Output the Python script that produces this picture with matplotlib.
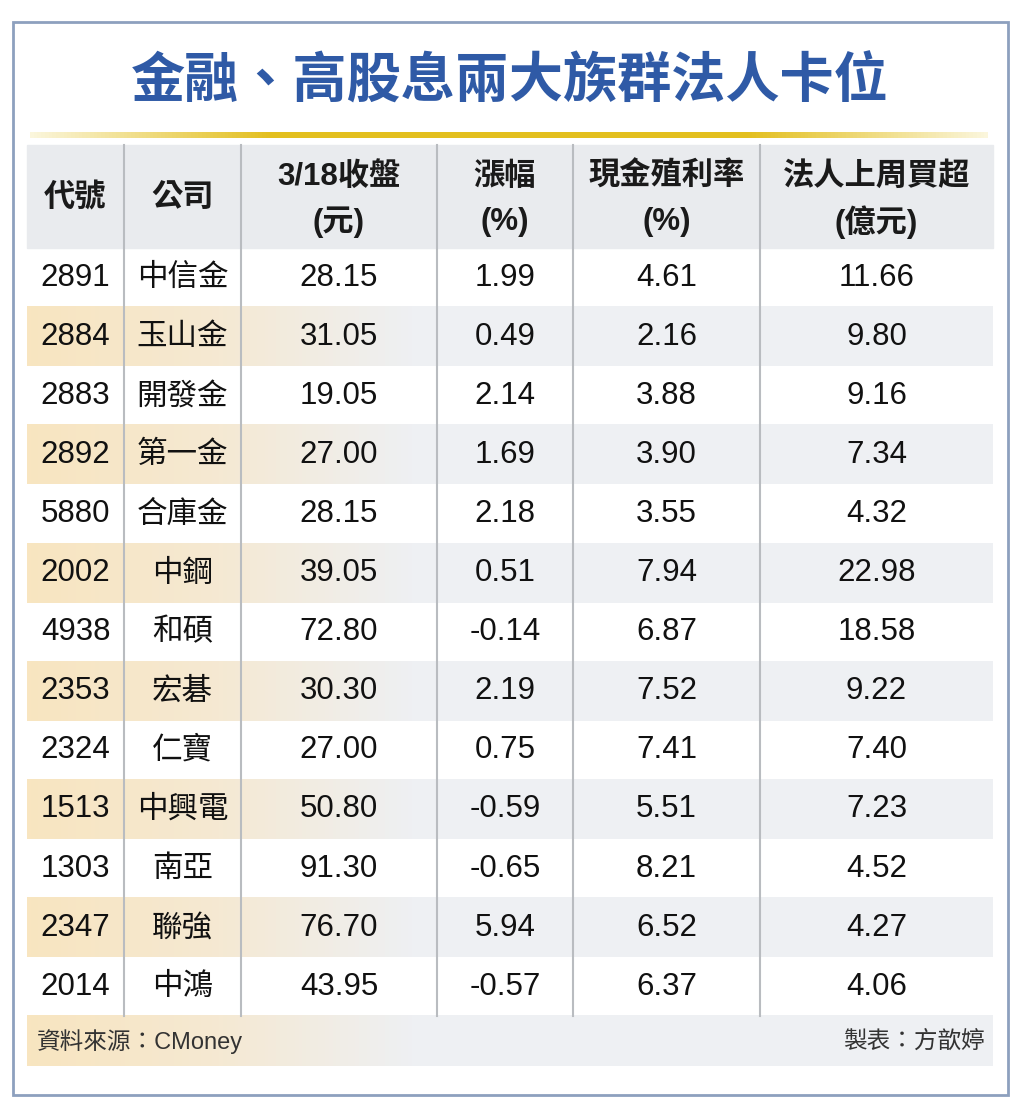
import numpy as np
import matplotlib.pyplot as plt
from matplotlib.colors import LinearSegmentedColormap

plt.rcParams['font.family'] = ['Noto Sans CJK TC', 'DejaVu Sans']
NUM = ['Liberation Sans', 'Noto Sans CJK TC']

title = '金融、高股息兩大族群法人卡位'
headers = [['代號'], ['公司'], ['3/18收盤', '(元)'], ['漲幅', '(%)'],
           ['現金殖利率', '(%)'], ['法人上周買超', '(億元)']]
codes = ['2891', '2884', '2883', '2892', '5880', '2002', '4938',
         '2353', '2324', '1513', '1303', '2347', '2014']
names = ['中信金', '玉山金', '開發金', '第一金', '合庫金', '中鋼', '和碩',
         '宏碁', '仁寶', '中興電', '南亞', '聯強', '中鴻']
close = ['28.15', '31.05', '19.05', '27.00', '28.15', '39.05', '72.80',
         '30.30', '27.00', '50.80', '91.30', '76.70', '43.95']
change = ['1.99', '0.49', '2.14', '1.69', '2.18', '0.51', '-0.14',
          '2.19', '0.75', '-0.59', '-0.65', '5.94', '-0.57']
yld = ['4.61', '2.16', '3.88', '3.90', '3.55', '7.94', '6.87',
       '7.52', '7.41', '5.51', '8.21', '6.52', '6.37']
buy = ['11.66', '9.80', '9.16', '7.34', '4.32', '22.98', '18.58',
       '9.22', '7.40', '7.23', '4.52', '4.27', '4.06']
source = '資料來源：CMoney'
maker = '製表：方歆婷'

W, H = 1024, 1119
fig = plt.figure(figsize=(W / 100, H / 100), dpi=100)
ax = fig.add_axes([0, 0, 1, 1])
ax.set_xlim(0, W)
ax.set_ylim(H, 0)
ax.axis('off')

# outer frame
ax.add_patch(plt.Rectangle((13, 22), 995, 1073, fill=False, ec='#8DA0BE', lw=2))

ax.text(510, 82, title, ha='center', va='center', fontsize=39,
        fontweight='bold', color='#2F5AA6')

# gold rule with faded ends
gold = LinearSegmentedColormap.from_list('g', ['#FBF6DC', '#E3BF1E', '#E3BF1E', '#E3BF1E', '#FBF6DC'])
ax.imshow(np.linspace(0, 1, 256)[None, :], cmap=gold, aspect='auto',
          extent=(30, 988, 138, 132), zorder=1)

left, right = 27, 993
col_edges = [27, 124, 241, 437, 573, 760, 993]
centers = [(col_edges[i] + col_edges[i + 1]) / 2 for i in range(6)]
head_top, head_bot = 145, 248
row_h = 59.1

ax.add_patch(plt.Rectangle((left, head_top), right - left, head_bot - head_top,
                           color='#E9EBEE', zorder=1))

stripe = LinearSegmentedColormap.from_list('s', ['#F8E5C0', '#F5E9D3', '#EEF0F3', '#EEF0F3', '#EEF0F3', '#EEF0F3'])
nrows = len(codes)
for i in range(nrows):
    if i % 2 == 1:
        y0 = head_bot + i * row_h
        ax.imshow(np.linspace(0, 1, 256)[None, :], cmap=stripe, aspect='auto',
                  extent=(left, right, y0 + row_h, y0), zorder=1)

foot_top = head_bot + nrows * row_h
ax.imshow(np.linspace(0, 1, 256)[None, :], cmap=stripe, aspect='auto',
          extent=(left, right, foot_top + 50, foot_top), zorder=1)

for x in col_edges[1:-1]:
    ax.plot([x, x], [head_top, foot_top], color='#B9BCC0', lw=1.5, zorder=2)

for j, lines in enumerate(headers):
    ys = [198] if len(lines) == 1 else [177, 222]
    for s, y in zip(lines, ys):
        ax.text(centers[j], y, s, ha='center', va='center', family=NUM,
                fontsize=22.5, fontweight='bold', color='#1A1A1A', zorder=3)

cols = [codes, names, close, change, yld, buy]
for i in range(nrows):
    yc = head_bot + (i + 0.5) * row_h
    for j in range(6):
        if j == 1:
            ax.text(centers[j], yc, cols[j][i], ha='center', va='center',
                    fontsize=22, color='#111111', zorder=3)
        else:
            ax.text(centers[j], yc, cols[j][i], ha='center', va='center',
                    family=NUM, fontsize=22.5, color='#111111', zorder=3)

ax.text(37, foot_top + 25, source, ha='left', va='center', fontsize=17,
        family=NUM, color='#333333', zorder=3)
ax.text(985, foot_top + 25, maker, ha='right', va='center', fontsize=17,
        color='#333333', zorder=3)

fig.savefig('out.png', dpi=100)
